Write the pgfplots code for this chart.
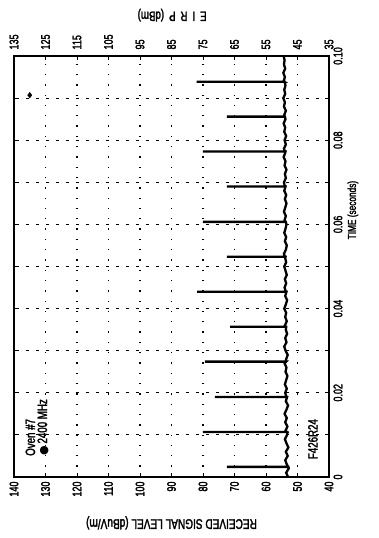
\documentclass[border=0pt]{standalone}
\usepackage{pgfplots}
\pgfplotsset{compat=1.18}
\usepackage{pgfplotstable}
\usepackage{fontspec}
\setmainfont{Liberation Sans}
\newfontfamily\cf[FakeStretch=0.72,FakeBold=2]{Liberation Sans}
\newfontfamily\dv{DejaVu Sans}

\pgfplotstableread{
s t
53.0 0.000
53.6 0.001
52.8 0.002
52.9 0.0024
72.4 0.0024
53.0 0.0024
53.4 0.003
53.9 0.004
53.1 0.005
53.7 0.006
52.9 0.007
53.5 0.008
54.0 0.009
53.3 0.010
53.2 0.0107
80.0 0.0107
53.4 0.0107
53.8 0.011
53.2 0.012
53.9 0.013
53.4 0.014
54.1 0.015
53.5 0.016
53.0 0.017
53.7 0.018
53.3 0.019
76.2 0.019
53.5 0.019
53.9 0.020
53.4 0.021
54.0 0.022
53.6 0.023
53.2 0.024
53.8 0.025
53.5 0.026
54.1 0.027
53.6 0.0274
79.4 0.0274
53.7 0.0274
53.6 0.028
53.1 0.029
53.8 0.030
54.2 0.031
53.5 0.032
53.9 0.033
53.3 0.034
53.7 0.035
53.6 0.0357
71.4 0.0357
53.8 0.0357
54.0 0.036
53.4 0.037
53.9 0.038
53.6 0.039
54.2 0.040
53.7 0.041
53.3 0.042
53.9 0.043
53.5 0.044
81.9 0.044
53.7 0.044
54.1 0.045
53.6 0.046
54.0 0.047
53.4 0.048
53.8 0.049
54.2 0.050
53.6 0.051
53.9 0.052
53.8 0.0523
72.4 0.0523
54.0 0.0523
54.3 0.053
53.7 0.054
53.4 0.055
54.0 0.056
53.6 0.057
54.2 0.058
53.8 0.059
53.5 0.060
53.7 0.0606
80.0 0.0606
53.9 0.0606
54.1 0.061
53.7 0.062
54.3 0.063
53.9 0.064
53.5 0.065
54.0 0.066
53.6 0.067
54.2 0.068
53.8 0.069
72.4 0.069
54.0 0.069
54.3 0.070
53.7 0.071
54.0 0.072
53.5 0.073
54.1 0.074
53.8 0.075
54.4 0.076
53.9 0.077
53.8 0.0773
80.0 0.0773
54.0 0.0773
54.3 0.078
53.7 0.079
54.1 0.080
53.6 0.081
54.2 0.082
53.9 0.083
54.4 0.084
53.8 0.085
54.0 0.0856
72.4 0.0856
54.1 0.0856
54.2 0.086
53.7 0.087
54.3 0.088
54.0 0.089
54.5 0.090
53.9 0.091
54.2 0.092
53.8 0.093
54.1 0.0939
82.0 0.0939
54.2 0.0939
54.4 0.094
54.0 0.095
54.5 0.096
53.9 0.097
54.3 0.098
54.1 0.099
54.4 0.100
}\sig

\begin{document}
\begin{tikzpicture}
\useasboundingbox (-14pt,-61pt) rectangle (365pt,477pt);
\begin{axis}[
  scale only axis, width=315pt, height=421pt,
  at={(0pt,0pt)}, anchor=south west,
  clip mode=individual,
  /pgf/number format/assume math mode=true,
  xmin=40, xmax=140, x dir=reverse,
  ymin=0, ymax=0.1,
  xtick={40,50,...,140},
  minor xtick={50,60,...,130},
  ytick={0,0.01,0.02,0.03,0.04,0.05,0.06,0.07,0.08,0.09,0.1},
  yticklabels={0,,0.02,,0.04,,0.06,,0.08,,0.10},
  yticklabel pos=right,
  tick align=inside,
  major tick length=4pt, minor tick length=0pt,
  xmajorgrids=false, xminorgrids=true,
  ymajorgrids=true,
  major grid style={black, line width=1pt, dash pattern=on 3pt off 7pt},
  minor grid style={black, line width=1.2pt, dash pattern=on 1.3pt off 9pt},
  axis line style={line width=1.7pt},
  tick style={black, line width=0.9pt},
  xticklabel style={rotate=90, anchor=east, font=\cf\fontsize{12.5}{12.5}\selectfont},
  xticklabel shift=1pt,
  yticklabel style={rotate=90, anchor=north, font=\cf\fontsize{12.5}{12.5}\selectfont},
  yticklabel shift=1pt,
]
\addplot[black, line width=2.3pt] table[x=s, y=t] {\sig};
\addplot[only marks, mark=diamond*, mark size=2.8pt, black] coordinates {(135,0.0907)};
\node[rotate=90, anchor=west, font=\cf\fontsize{13.5}{13.5}\selectfont] at (axis cs:134.8,0.0042) {Oven \#7};
\node[rotate=90, anchor=west, font=\cf\fontsize{13.5}{13.5}\selectfont] at (axis cs:130.8,0.0042) {{\dv\fontsize{11}{11}\selectfont ●} 2400 MHz};
\node[rotate=90, anchor=center, font=\cf\fontsize{13.5}{13.5}\selectfont] at (axis cs:45.1,0.0090) {F426R24};
\node[rotate=180, anchor=center, font=\cf\fontsize{14}{14}\selectfont] at (axis description cs:0.5,-0.109) {RECEIVED SIGNAL LEVEL (dBuV/m)};
\node[rotate=90, anchor=center, font=\cf\fontsize{11.5}{11.5}\selectfont] at (axis description cs:1.076,0.634) {TIME (seconds)};
\node[rotate=180, anchor=center, font=\cf\fontsize{13.5}{13.5}\selectfont] at (axis description cs:0.502,1.097) {E\, I\, R\, P\, (dBm)};
\end{axis}
\begin{axis}[
  scale only axis, width=315pt, height=421pt,
  at={(0pt,0pt)}, anchor=south west,
  /pgf/number format/assume math mode=true,
  xmin=35, xmax=135, x dir=reverse,
  ymin=0, ymax=0.1,
  axis x line*=top, axis y line=none,
  xtick={35,45,...,135},
  tick align=inside,
  major tick length=4pt,
  axis line style={line width=1.7pt},
  tick style={black, line width=0.9pt},
  xticklabel style={rotate=90, anchor=west, font=\cf\fontsize{12.5}{12.5}\selectfont},
  xticklabel shift=3pt,
]
\end{axis}
\end{tikzpicture}
\end{document}
